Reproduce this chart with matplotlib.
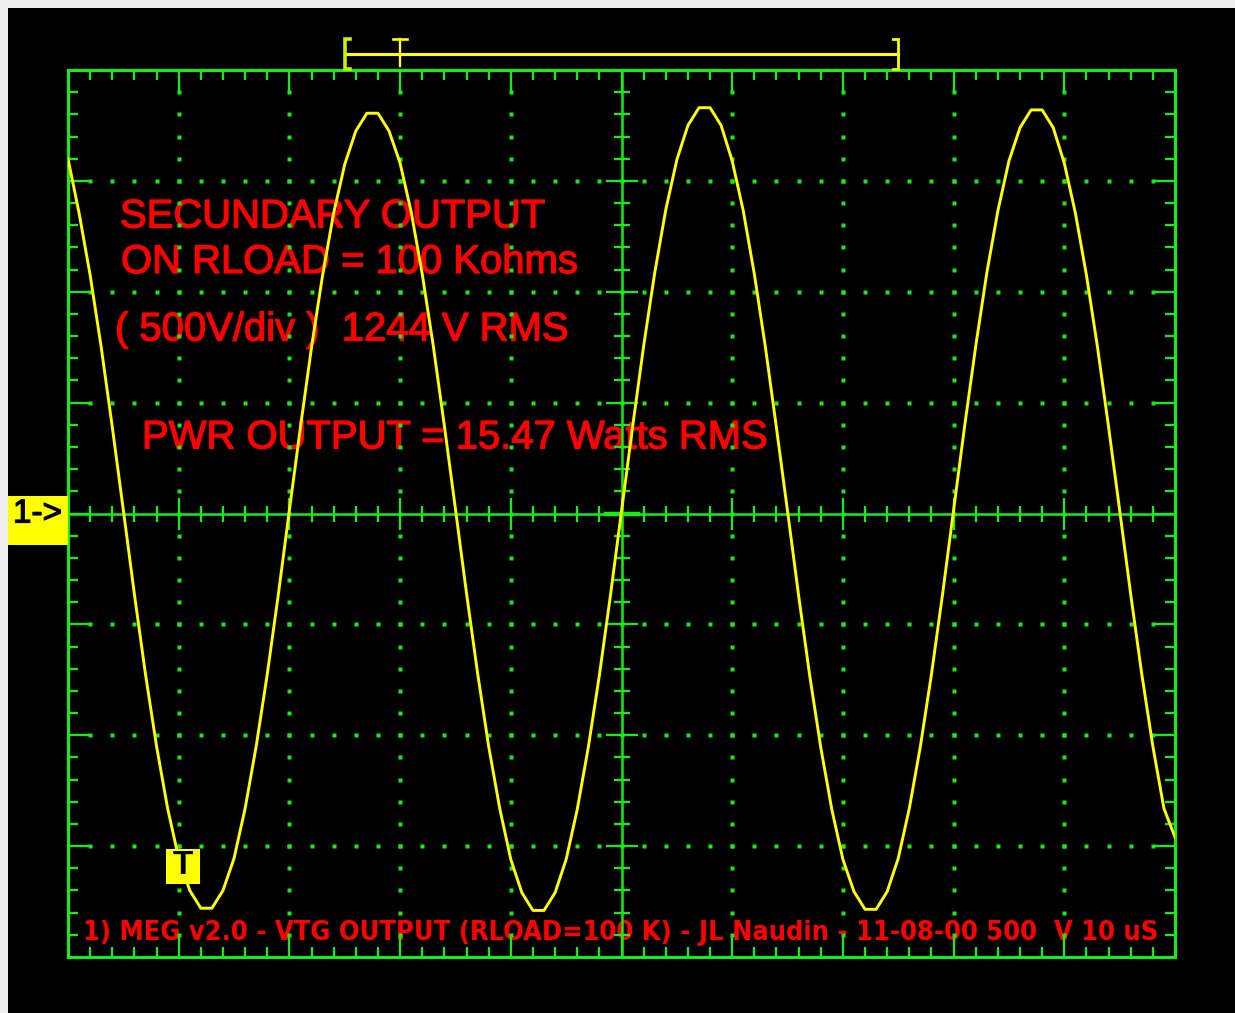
import numpy as np
import matplotlib
matplotlib.use("Agg")
import matplotlib.pyplot as plt
from matplotlib.patches import Rectangle
from matplotlib.collections import LineCollection
from matplotlib import font_manager
from matplotlib.font_manager import FontProperties
import matplotlib.patheffects as pe

# ---------------- data read from the scope capture ----------------
us_per_div = 10          # time base
volts_per_div = 500      # channel 1 sensitivity
n_xdiv = 10
n_ydiv = 8

# sample instants (µs), one every 0.1 division
time_us = np.arange(0, 101, 1.0)
# channel 1 voltage (V) read at each instant
voltage_v = [
    1600, 1355, 1075, 750, 390, 15, -365, -725, -1050, -1330,
    -1555, -1700, -1780, -1780, -1700, -1555, -1330, -1050, -725, -365,
    15, 390, 750, 1075, 1355, 1575, 1725, 1805, 1805, 1725,
    1580, 1360, 1080, 755, 395, 20, -360, -720, -1050, -1330,
    -1560, -1710, -1790, -1790, -1710, -1560, -1335, -1055, -730, -370,
    10, 390, 755, 1085, 1370, 1595, 1750, 1830, 1830, 1750,
    1590, 1365, 1080, 750, 385, 10, -370, -730, -1055, -1335,
    -1560, -1705, -1785, -1785, -1705, -1555, -1330, -1050, -725, -365,
    15, 395, 755, 1085, 1365, 1590, 1740, 1820, 1820, 1740,
    1580, 1355, 1075, 750, 390, 15, -365, -725, -1050, -1330,
    -1460,
]

heading_lines = ["SECUNDARY OUTPUT", "ON RLOAD = 100 Kohms", "( 500V/div )  1244 V RMS"]
power_label = "PWR OUTPUT = 15.47 Watts RMS"
footer_label = "1) MEG v2.0 - VTG OUTPUT (RLOAD=100 K) - JL Naudin - 11-08-00 500  V 10 uS"
channel_label = "1->"
trigger_label = "T"
window_start_div, window_end_div, trigger_div = 2.5, 7.5, 3.0

# ---------------- styling ----------------
W, H = 1235, 1013
GREEN = "#12f012"
YELLOW = "#ffff00"
RED = "#ff0000"
FONT = "Liberation Sans"

fig = plt.figure(figsize=(W / 100, H / 100), dpi=100)
fig.patch.set_facecolor("#ededed")
fig.add_artist(Rectangle((8 / W, 0), 1 - 8 / W, 1 - 8 / H, transform=fig.transFigure,
                         facecolor="black", edgecolor="none", zorder=-10))

rect = [68 / W, 1 - 957 / H, 1107 / W, 887 / H]
PX = n_xdiv / 1107.0   # divisions per pixel (x)
PY = n_ydiv / 887.0    # divisions per pixel (y)


def div_axes():
    a = fig.add_axes(rect)
    a.set_xlim(0, n_xdiv)
    a.set_ylim(-n_ydiv / 2, n_ydiv / 2)
    a.axis("off")
    return a


# ---- text layer + graticule ----
ax_g = div_axes()

y_top, y_bot = n_ydiv / 2, -n_ydiv / 2
xc = n_xdiv / 2

# dotted division lines
dx, dy = [], []
for xi in range(1, n_xdiv):
    if xi == xc:
        continue
    for j in range(1, 5 * n_ydiv):
        dx.append(xi); dy.append(y_bot + 0.2 * j)
for yi in range(int(y_bot) + 1, int(y_top)):
    if yi == 0:
        continue
    for i in range(1, 5 * n_xdiv):
        dx.append(0.2 * i); dy.append(yi)
ax_g.plot(dx, dy, "s", ms=2.3, mec="none", color=GREEN, zorder=3)

# border ticks
segs = []
for i in range(1, 5 * n_xdiv):
    x = 0.2 * i
    L = 22 if i % 5 == 0 else 10
    segs.append([(x, y_top), (x, y_top - L * PY)])
    segs.append([(x, y_bot), (x, y_bot + L * PY)])
for j in range(1, 5 * n_ydiv):
    y = y_bot + 0.2 * j
    L = 22 if j % 5 == 0 else 10
    segs.append([(0, y), (L * PX, y)])
    segs.append([(n_xdiv, y), (n_xdiv - L * PX, y)])
# centre axis ticks
for i in range(1, 5 * n_xdiv):
    x = 0.2 * i
    h = 16 if i % 5 == 0 else 8
    segs.append([(x, -h * PY), (x, h * PY)])
for j in range(1, 5 * n_ydiv):
    y = y_bot + 0.2 * j
    h = 16 if j % 5 == 0 else 8
    segs.append([(xc - h * PX, y), (xc + h * PX, y)])
ax_g.add_collection(LineCollection(segs, colors=GREEN, linewidths=1.6, zorder=3))

# centre axes
ax_g.plot([0, n_xdiv], [0, 0], color=GREEN, lw=1.8, zorder=3, solid_capstyle="butt")
ax_g.plot([xc, xc], [y_bot, y_top], color=GREEN, lw=1.8, zorder=3, solid_capstyle="butt")
ax_g.plot([xc - 16 * PX, xc + 16 * PX], [0, 0], color=GREEN, lw=3.2, zorder=3)
# border
ax_g.plot([0, n_xdiv, n_xdiv, 0, 0], [y_bot, y_bot, y_top, y_top, y_bot],
          color=GREEN, lw=2.2, zorder=4, clip_on=False, solid_joinstyle="miter")

# red annotation texts (slightly emboldened like the screen font)
big = 28.8
thick = [pe.withStroke(linewidth=0.9, foreground=RED)]
for (xp, yp, s) in [(52, 227, heading_lines[0]), (53, 272.5, heading_lines[1]),
                    (47, 340, heading_lines[2]), (74, 448, power_label)]:
    ax_g.text(xp * PX, (513 - yp) * PY, s, color=RED, fontsize=big, family=FONT,
              ha="left", va="baseline", zorder=1, path_effects=thick)

# footer in a narrow face if one is installed
footer_fp = FontProperties(family=FONT, weight="normal")
narrow = [f for f in font_manager.fontManager.ttflist
          if ("Narrow" in f.name and "Liberation" in f.name)]
cond = [f for f in font_manager.fontManager.ttflist
        if f.name == "DejaVu Sans" and str(f.stretch) in ("condensed", "semi-condensed")]
pick = None
for group in (narrow, cond):
    bold = [f for f in group if f.weight in ("bold", 700)]
    if bold:
        pick = bold[0]; break
    if group:
        pick = group[0]; break
if pick is not None:
    footer_fp = FontProperties(fname=pick.fname)
ft = ax_g.text(15 * PX, (513 - 940) * PY, footer_label, color=RED, fontproperties=footer_fp,
               ha="left", va="baseline", zorder=1)
ft.set_fontsize(20)
renderer = fig.canvas.get_renderer()
wpx = ft.get_window_extent(renderer).width
ft.set_fontsize(20 * 1075.0 / wpx)

# ---- waveform ----
ax_w = fig.add_axes(rect)
ax_w.set_xlim(0, n_xdiv * us_per_div)
ax_w.set_ylim(-n_ydiv / 2 * volts_per_div, n_ydiv / 2 * volts_per_div)
ax_w.axis("off")
ax_w.plot(time_us, voltage_v, color=YELLOW, lw=2.1, solid_joinstyle="round")

# ---- markers on top ----
ax_m = div_axes()
# memory window bar with trigger position
yb = (513 - 53.7) * PY
ya, yz = (513 - 38.5) * PY, (513 - 68.5) * PY
ax_m.plot([window_start_div, window_end_div], [yb, yb], color=YELLOW, lw=2.2, clip_on=False)
ax_m.plot([window_start_div + 5 * PX, window_start_div, window_start_div, window_start_div + 5 * PX],
          [ya, ya, yz, yz], color="#c8f000", lw=2.6, clip_on=False, solid_joinstyle="miter")
ax_m.plot([window_end_div - 5 * PX, window_end_div, window_end_div, window_end_div - 5 * PX],
          [ya, ya, yz, yz], color=YELLOW, lw=2.0, clip_on=False, solid_joinstyle="miter")
ax_m.plot([trigger_div, trigger_div], [(513 - 66) * PY, ya], color=YELLOW, lw=1.7, clip_on=False)
ax_m.plot([trigger_div - 7 * PX, trigger_div + 7 * PX], [ya, ya], color=YELLOW, lw=1.9, clip_on=False)

# channel marker
ax_m.add_patch(Rectangle((-60 * PX, (513 - 544) * PY), 60 * PX, 49 * PY,
                         facecolor=YELLOW, edgecolor="none", clip_on=False))
ax_m.text(-30.5 * PX, (513 - 513.5) * PY, channel_label, color="black", fontsize=24,
          family=FONT, ha="center", va="center", clip_on=False,
          path_effects=[pe.withStroke(linewidth=0.9, foreground="black")])

# trigger level marker
ax_m.add_patch(Rectangle((98 * PX, (513 - 883) * PY), 34 * PX, 35 * PY,
                         facecolor=YELLOW, edgecolor="none", clip_on=False))
ax_m.text(115 * PX, (513 - 865) * PY, trigger_label, color="black", fontsize=24,
          family=FONT, weight="bold", ha="center", va="center")

fig.savefig("out.png", dpi=100, facecolor=fig.get_facecolor())
